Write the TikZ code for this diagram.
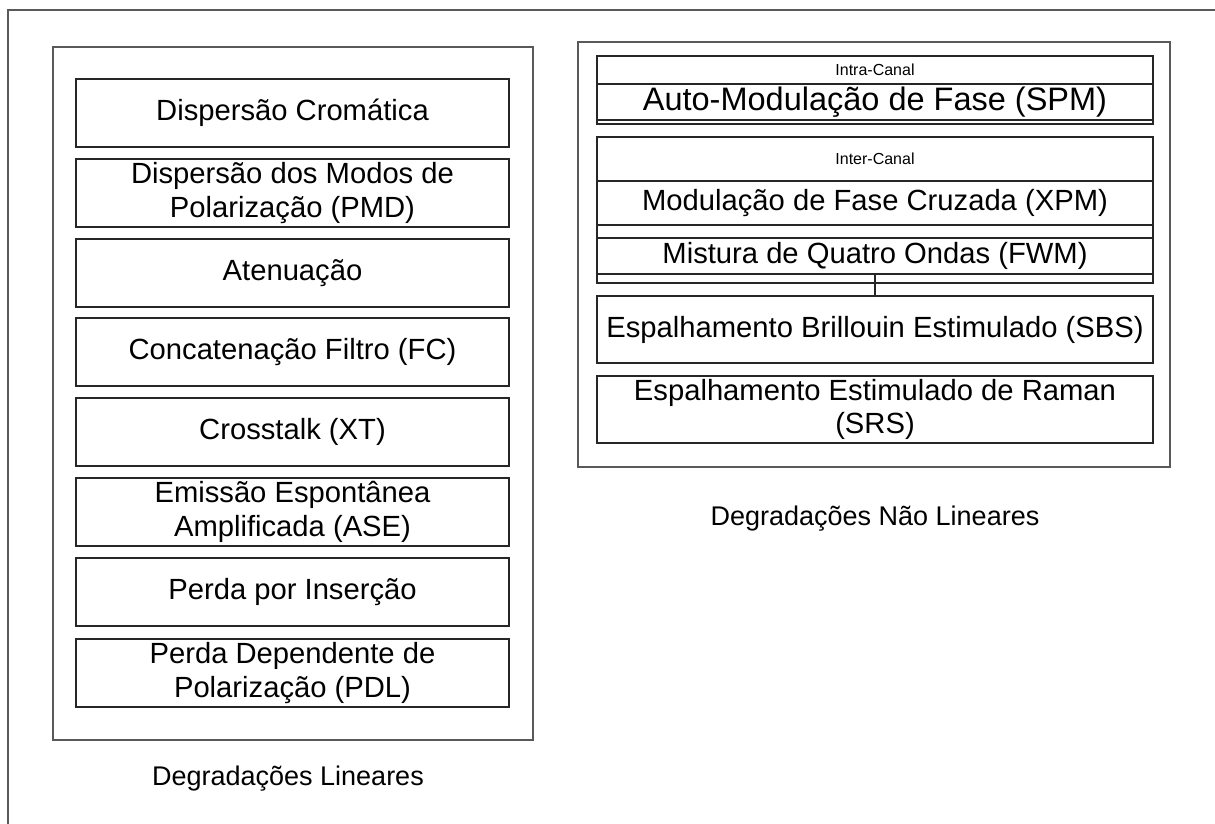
\documentclass[tikz,border=0pt]{standalone}
\usepackage{fontspec}
\setmainfont{Liberation Sans}
\begin{document}
\begin{tikzpicture}[x=1pt,y=-1pt,
  frame/.style={draw=black!65,line width=1.5pt},
  itembox/.style={draw=black!85,line width=1.4pt,inner sep=0pt,align=center,
    minimum width=433pt,minimum height=68pt,font=\fontsize{29.2}{33.5}\selectfont},
  rbox/.style={draw=black!85,line width=1.4pt,inner sep=0pt,align=center,
    minimum width=556pt,font=\fontsize{29.2}{33}\selectfont},
  hdr/.style={rbox,font=\fontsize{16}{19}\selectfont},
  strip/.style={draw=black!85,line width=1.4pt,inner sep=0pt,minimum width=556pt},
  title/.style={font=\fontsize{27}{32}\selectfont,inner sep=0pt}]
\useasboundingbox (0,0) rectangle (1215,823);
% outer frame (open to the right and bottom)
\draw[frame] (1216,10) -- (8,10) -- (8,824);
% containers
\draw[frame] (53,47) rectangle (533,740);
\draw[frame] (578,42) rectangle (1170,467);
% linear items
\node[itembox] (l1) at (292.5,113) {Dispersão Cromática};
\node[itembox] (l2) at (292.5,193) {Dispersão dos Modos de\\Polarização (PMD)};
\node[itembox] (l3) at (292.5,273) {Atenuação};
\node[itembox] (l4) at (292.5,352) {Concatenação Filtro (FC)};
\node[itembox] (l5) at (292.5,432) {Crosstalk (XT)};
\node[itembox] (l6) at (292.5,512) {Emissão Espontânea\\Amplificada (ASE)};
\node[itembox] (l7) at (292.5,592) {Perda por Inserção};
\node[itembox] (l8) at (292.5,673) {Perda Dependente de\\Polarização (PDL)};
\node[title] (tl) at (288,779) {Degradações Lineares};
% non-linear: intra-channel
\node[hdr,minimum height=28pt] (intra) at (875,70) {Intra-Canal};
\node[rbox,minimum height=36pt,font=\fontsize{32.5}{36}\selectfont,text height=24pt,text depth=7pt] (spm) at (875,102) {Auto-Modulação de Fase (SPM)};
\node[strip,minimum height=4pt] (spms) at (875,122) {};
% inter-channel
\node[hdr,minimum height=44pt] (inter) at (875,159) {Inter-Canal};
\node[rbox,minimum height=44pt] (xpm) at (875,203) {Modulação de Fase Cruzada (XPM)};
\node[strip,minimum height=13pt] (xpms) at (875,231.5) {};
\node[rbox,minimum height=36pt] (fwm) at (875,256) {Mistura de Quatro Ondas (FWM)};
\node[strip,minimum height=9pt] (fwms) at (875,278.5) {};
% scattering
\node[rbox,minimum height=67pt] (sbs) at (875,329.5) {Espalhamento Brillouin Estimulado (SBS)};
\node[rbox,minimum height=67pt] (srs) at (875,409.5) {Espalhamento Estimulado de Raman\\(SRS)};
\draw[draw=black!85,line width=1.2pt] (fwm.south) -- (sbs.north);
\node[title] (tn) at (875,519) {Degradações Não Lineares};
\end{tikzpicture}
\end{document}
